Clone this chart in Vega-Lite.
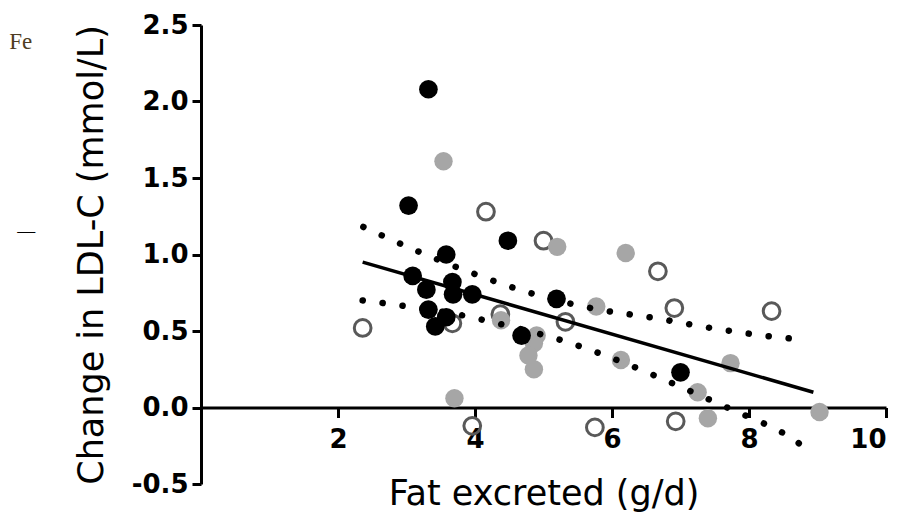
{
  "$schema": "https://vega.github.io/schema/vega-lite/v6.json",
  "width": 685,
  "height": 459,
  "autosize": {"type": "none"},
  "padding": {"left": 201, "top": 25, "right": 23, "bottom": 31},
  "background": "white",
  "config": {
    "view": {"stroke": null},
    "axis": {"grid": false},
    "locale": {"number": {"decimal": ".", "thousands": ",", "grouping": [3], "currency": ["$", ""], "minus": "-"}}
  },
  "datasets": {
    "open": [
      {"x": 4.16, "y": 1.28}, {"x": 5.0, "y": 1.09}, {"x": 6.67, "y": 0.89}, {"x": 6.91, "y": 0.65},
      {"x": 8.33, "y": 0.63}, {"x": 2.36, "y": 0.52}, {"x": 3.67, "y": 0.55}, {"x": 5.32, "y": 0.56},
      {"x": 4.37, "y": 0.61}, {"x": 3.96, "y": -0.12}, {"x": 5.75, "y": -0.13}, {"x": 6.93, "y": -0.09}
    ],
    "gray": [
      {"x": 3.54, "y": 1.61}, {"x": 5.2, "y": 1.05}, {"x": 6.2, "y": 1.01}, {"x": 5.77, "y": 0.66},
      {"x": 4.38, "y": 0.57}, {"x": 4.9, "y": 0.47}, {"x": 4.86, "y": 0.42}, {"x": 4.78, "y": 0.34},
      {"x": 4.86, "y": 0.25}, {"x": 6.13, "y": 0.31}, {"x": 7.73, "y": 0.29}, {"x": 7.25, "y": 0.1},
      {"x": 7.4, "y": -0.07}, {"x": 9.03, "y": -0.03}, {"x": 3.7, "y": 0.06}
    ],
    "black": [
      {"x": 3.32, "y": 2.08}, {"x": 3.03, "y": 1.32}, {"x": 4.48, "y": 1.09}, {"x": 3.58, "y": 1.0},
      {"x": 3.09, "y": 0.86}, {"x": 3.29, "y": 0.77}, {"x": 3.67, "y": 0.82}, {"x": 3.68, "y": 0.74},
      {"x": 3.96, "y": 0.74}, {"x": 3.32, "y": 0.64}, {"x": 3.42, "y": 0.53}, {"x": 3.58, "y": 0.59},
      {"x": 4.68, "y": 0.47}, {"x": 5.19, "y": 0.71}, {"x": 7.0, "y": 0.23}
    ],
    "fit": [{"x": 2.36, "y": 0.95}, {"x": 8.94, "y": 0.1}],
    "upper": [
      {"x": 2.37, "y": 1.18}, {"x": 3.17, "y": 1.02}, {"x": 4.01, "y": 0.87}, {"x": 4.87, "y": 0.74},
      {"x": 5.75, "y": 0.645}, {"x": 6.62, "y": 0.585}, {"x": 7.51, "y": 0.515}, {"x": 8.41, "y": 0.46},
      {"x": 8.75, "y": 0.445}
    ],
    "lower": [
      {"x": 2.36, "y": 0.7}, {"x": 2.94, "y": 0.665}, {"x": 3.84, "y": 0.6}, {"x": 4.42, "y": 0.54},
      {"x": 5.29, "y": 0.436}, {"x": 6.13, "y": 0.3}, {"x": 6.96, "y": 0.143}, {"x": 7.78, "y": -0.02},
      {"x": 8.38, "y": -0.14}, {"x": 8.66, "y": -0.21}, {"x": 8.93, "y": -0.32}
    ],
    "notes": [
      {"x": -2.8, "y": 2.39, "t": "Fe", "kind": "fe"},
      {"x": -2.55, "y": 1.15, "t": "—", "kind": "dash"}
    ]
  },
  "encoding": {
    "x": {
      "field": "x", "type": "quantitative",
      "scale": {"domain": [0, 10], "nice": false, "zero": false},
      "axis": {
        "values": [2, 4, 6, 8, 10], "offset": -76.5,
        "domainWidth": 3, "domainColor": "black", "tickColor": "black", "tickWidth": 3, "tickSize": 10,
        "labelFont": "DejaVu Sans", "labelFontSize": 26, "labelFontWeight": "bold", "labelColor": "black", "labelPadding": 9,
        "title": "Fat excreted (g/d)", "titleFont": "DejaVu Sans", "titleFontSize": 35, "titleFontWeight": "normal",
        "titleColor": "black", "titlePadding": 24
      }
    },
    "y": {
      "field": "y", "type": "quantitative",
      "scale": {"domain": [-0.5, 2.5], "nice": false, "zero": false},
      "axis": {
        "values": [-0.5, 0, 0.5, 1, 1.5, 2, 2.5], "format": ".1f",
        "domainWidth": 3, "domainColor": "black", "tickColor": "black", "tickWidth": 3, "tickSize": 9,
        "labelFont": "DejaVu Sans", "labelFontSize": 26, "labelFontWeight": "bold", "labelColor": "black", "labelPadding": 4,
        "title": "Change in LDL-C (mmol/L)", "titleFont": "DejaVu Sans", "titleFontSize": 35, "titleFontWeight": "normal",
        "titleColor": "black", "titlePadding": 22
      }
    }
  },
  "layer": [
    {"data": {"name": "open"}, "mark": {"type": "point", "shape": "circle", "filled": false, "size": 280, "strokeWidth": 3, "color": "#595959", "opacity": 1}},
    {"data": {"name": "gray"}, "mark": {"type": "circle", "size": 340, "color": "#a6a6a6", "opacity": 1}},
    {"data": {"name": "black"}, "mark": {"type": "circle", "size": 350, "color": "black", "opacity": 1}},
    {"data": {"name": "fit"}, "mark": {"type": "line", "color": "black", "strokeWidth": 3.5}},
    {"data": {"name": "upper"}, "mark": {"type": "line", "color": "black", "strokeWidth": 6.5, "strokeDash": [0.1, 20], "strokeCap": "round", "interpolate": "monotone"}},
    {"data": {"name": "lower"}, "mark": {"type": "line", "color": "black", "strokeWidth": 6.5, "strokeDash": [0.1, 20], "strokeCap": "round", "interpolate": "monotone"}},
    {"data": {"name": "notes"}, "transform": [{"filter": "datum.kind == 'fe'"}], "mark": {"type": "text", "font": "Liberation Serif", "fontSize": 23, "color": "#4f3d22", "align": "left", "baseline": "middle"}, "encoding": {"text": {"field": "t"}}},
    {"data": {"name": "notes"}, "transform": [{"filter": "datum.kind == 'dash'"}], "mark": {"type": "text", "font": "Liberation Serif", "fontSize": 18, "color": "black", "align": "center", "baseline": "middle"}, "encoding": {"text": {"field": "t"}}}
  ]
}
